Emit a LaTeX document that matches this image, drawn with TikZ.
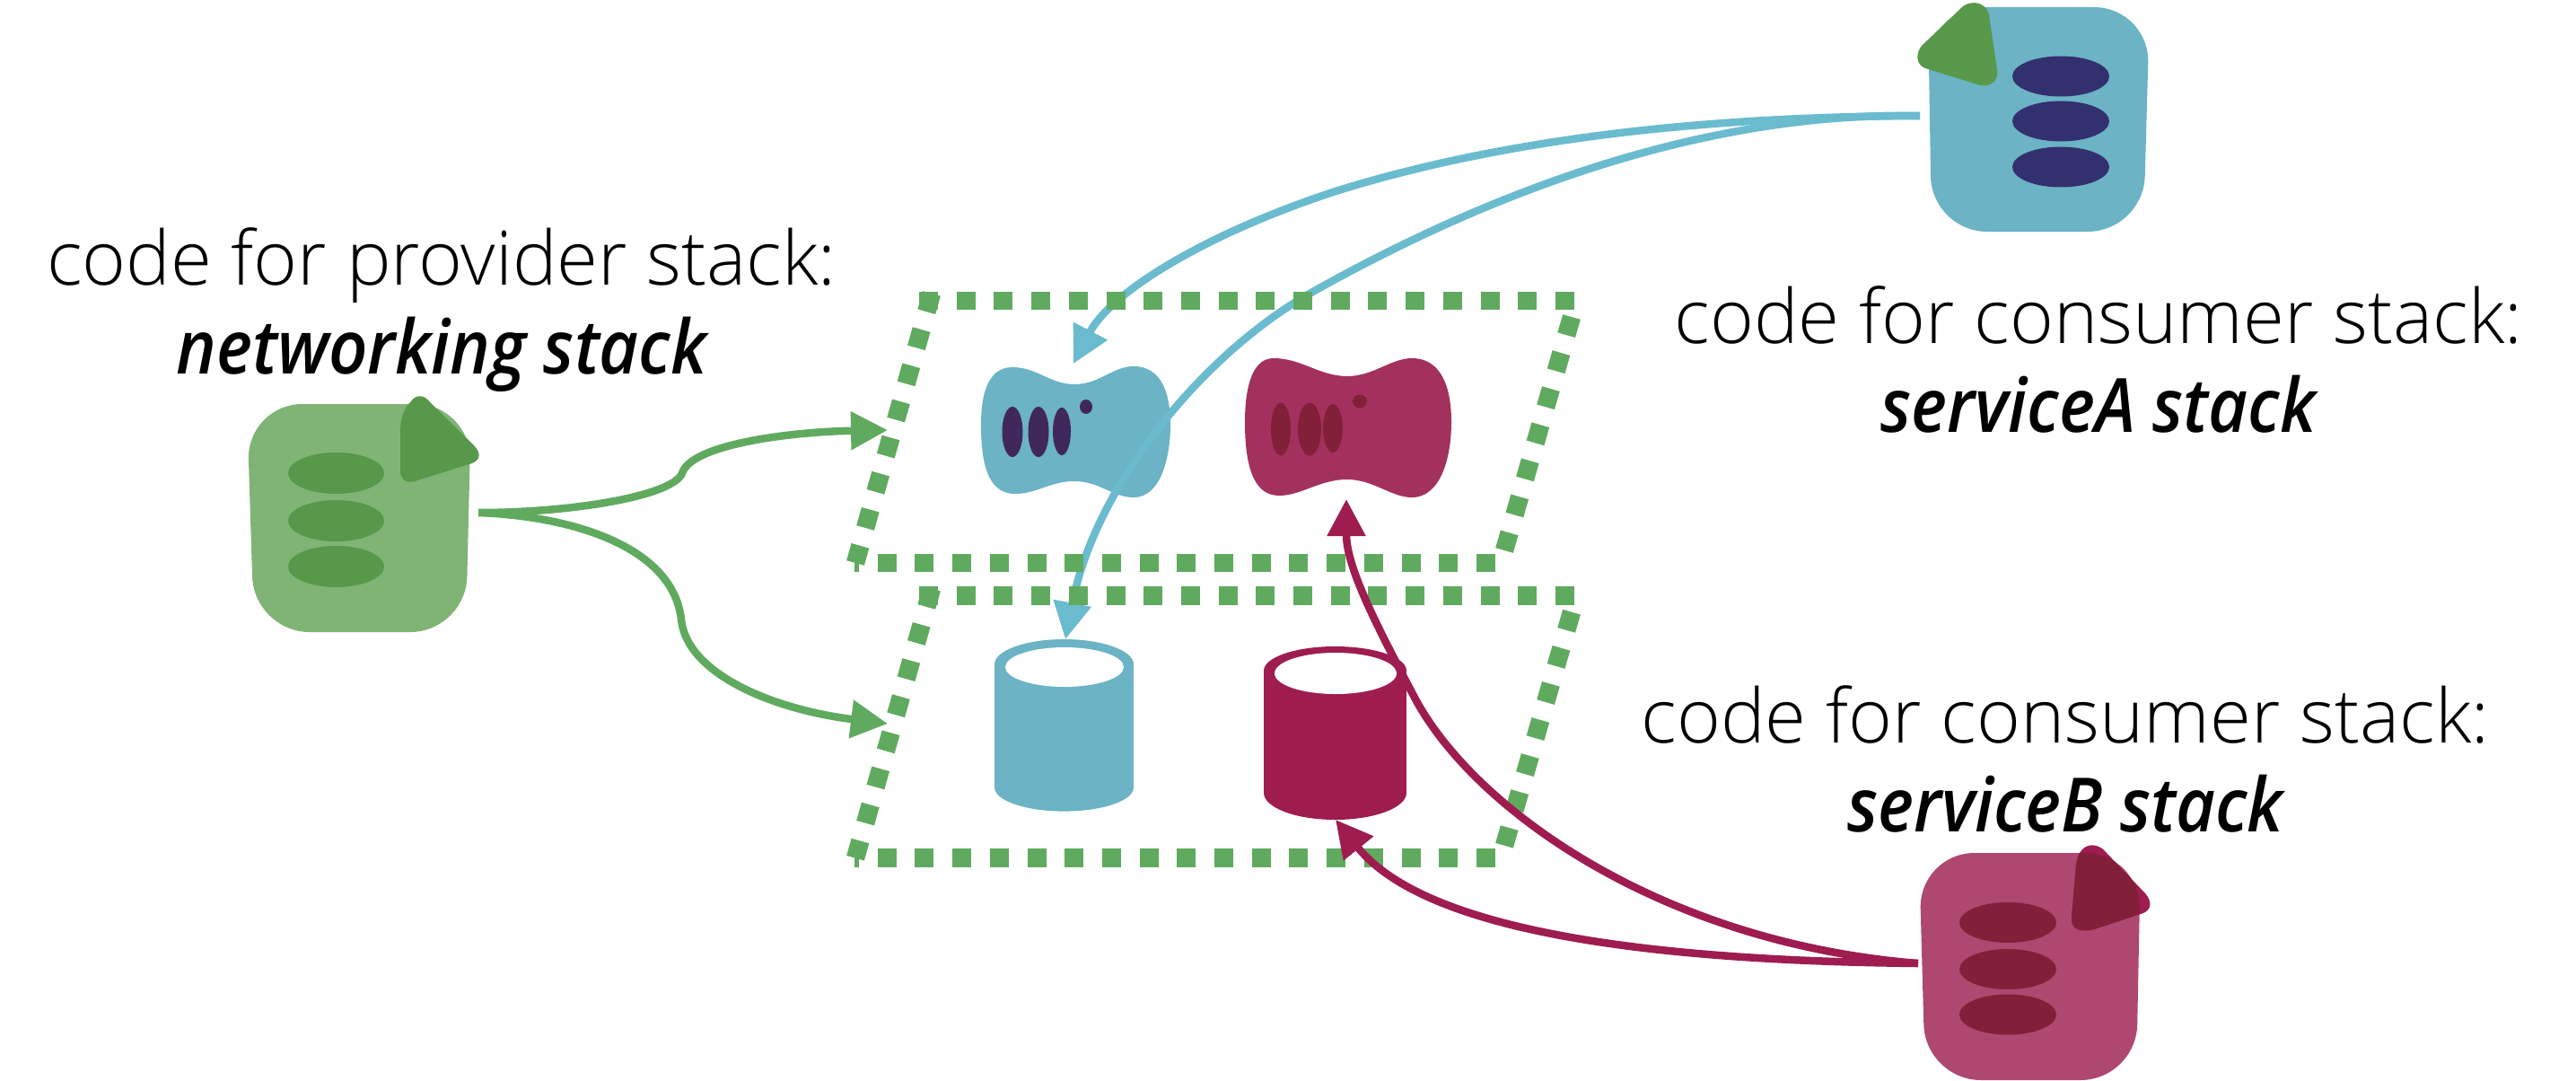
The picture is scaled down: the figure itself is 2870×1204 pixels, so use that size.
\documentclass[tikz,border=0pt]{standalone}
\usepackage{fontspec}
\setmainfont{Open Sans Light}
\newfontfamily\stackfont[FakeStretch=0.91]{Open Sans Semibold Italic}
\usetikzlibrary{arrows.meta}

\definecolor{greenline}{HTML}{60AA60}
\definecolor{greenbody}{HTML}{80B476}
\definecolor{greendark}{HTML}{57984B}
\definecolor{cyanline}{HTML}{6BBBCF}
\definecolor{cyanbody}{HTML}{6BB3C5}
\definecolor{cyandark}{HTML}{33306F}
\definecolor{cyanoval}{HTML}{40285C}
\definecolor{redline}{HTML}{9E1C50}
\definecolor{redbody}{HTML}{AE4870}
\definecolor{redblob}{HTML}{A3315D}
\definecolor{reddark}{HTML}{82203A}

\tikzset{
	codelabel/.style={align=center,inner sep=0pt,font=\fontsize{83.5}{99}\selectfont},
	link/.style={line width=8.5pt,-{Triangle[length=41pt,width=41pt]}},
	zone/.style={greenline,line width=20.5pt,dash pattern=on 21pt off 20.7pt}
}

\newcommand{\redflag}{(2320,946) .. controls (2328,938) and (2340,941) .. (2347,950) -- (2390,995)
	.. controls (2398,1004) and (2397,1013) .. (2388,1017) -- (2333,1035)
	.. controls (2318,1039) and (2307,1035) .. (2308,1022) -- (2313,963)
	.. controls (2314,956) and (2316,950) .. (2320,946) -- cycle}
\newcommand{\redpage}{[rounded corners=62pt] (2138,950) -- (2385,950) -- (2380,1203) -- (2145,1203) -- cycle}

\begin{document}
\begin{tikzpicture}[x=1pt,y=-1pt]
	\useasboundingbox (0,0) rectangle (2870,1204);

	% ports of the connectors
	\coordinate (providerOut) at (533,571);
	\coordinate (consumerAOut) at (2139,129);
	\coordinate (consumerBOut) at (2137,1073);
	\coordinate (zoneTopIn) at (989,479);
	\coordinate (zoneLowIn) at (989,806);
	\coordinate (apiAIn) at (1196,405);
	\coordinate (apiBIn) at (1500,556);
	\coordinate (dbAIn) at (1187,712);
	\coordinate (dbBIn) at (1488,913);

	% labels
	\node[codelabel] (providerLabel) at (492,345) {code for provider stack:\\{\stackfont networking stack}};
	\node[codelabel] (consumerALabel) at (2338,400) {code for consumer stack:\\{\stackfont serviceA stack}};
	\node[codelabel] (consumerBLabel) at (2301,845) {code for consumer stack:\\{\stackfont serviceB stack}};

	% provider code
	\fill[greenbody,rounded corners=62pt] (275,450) -- (525,450) -- (519,704) -- (283,704) -- cycle;
	\fill[greendark] (458,447) .. controls (463,439) and (473,439) .. (480,449) -- (527,495)
		.. controls (537,505) and (535,512) .. (526,516) -- (462,536)
		.. controls (451,539) and (446,533) .. (446,524) -- (446,482)
		.. controls (446,465) and (450,455) .. (458,447) -- cycle;
	\fill[greendark] (374.5,527) ellipse (53.5pt and 23pt);
	\fill[greendark] (374.5,580) ellipse (53.5pt and 23pt);
	\fill[greendark] (374.5,631) ellipse (53.5pt and 23pt);

	% consumer code A
	\fill[cyanbody,rounded corners=62pt] (2148,8) -- (2395,8) -- (2388,258) -- (2152,258) -- cycle;
	\fill[greendark] (2187,7) .. controls (2197,0) and (2212,2) .. (2216,16) -- (2225,78)
		.. controls (2227,90) and (2218,97) .. (2206,95) -- (2145,76)
		.. controls (2134,72) and (2134,58) .. (2142,50) -- cycle;
	\fill[cyandark] (2296,85) ellipse (54pt and 22.5pt);
	\fill[cyandark] (2296,135) ellipse (54pt and 22.5pt);
	\fill[cyandark] (2296,186) ellipse (54pt and 22.5pt);

	% consumer code B
	\fill[redbody] \redpage;
	\fill[redline] \redflag;
	\begin{scope}
		\clip \redpage;
		\fill[reddark] \redflag;
	\end{scope}
	\fill[reddark] (2237,1027.5) ellipse (54pt and 22.5pt);
	\fill[reddark] (2237,1079.5) ellipse (54pt and 22.5pt);
	\fill[reddark] (2237,1130) ellipse (54pt and 22.5pt);

	% api gateways
	\fill[cyanbody] (1197,428) .. controls (1170,428) and (1155,409) .. (1128,409)
		.. controls (1098,409) and (1093,445) .. (1093,473)
		.. controls (1093,515) and (1100,550) .. (1131,550)
		.. controls (1155,550) and (1170,536) .. (1197,536)
		.. controls (1225,536) and (1240,554) .. (1263,554)
		.. controls (1295,554) and (1304,505) .. (1304,473)
		.. controls (1304,440) and (1295,408) .. (1263,408)
		.. controls (1240,408) and (1225,428) .. (1197,428) -- cycle;
	\fill[cyanoval] (1128,481) ellipse (11.5pt and 28pt);
	\fill[cyanoval] (1157,481) ellipse (11.5pt and 28pt);
	\fill[cyanoval] (1183,480.5) ellipse (10pt and 26.5pt);
	\fill[cyanoval] (1210,453) ellipse (7pt and 8pt);

	\fill[redblob] (1501,419) .. controls (1470,419) and (1450,399) .. (1419,399)
		.. controls (1392,399) and (1387,440) .. (1387,470)
		.. controls (1387,515) and (1395,552) .. (1425,552)
		.. controls (1450,552) and (1470,534) .. (1501,534)
		.. controls (1530,534) and (1550,554) .. (1573,554)
		.. controls (1605,554) and (1617,510) .. (1617,470)
		.. controls (1617,430) and (1605,399) .. (1573,399)
		.. controls (1550,399) and (1530,419) .. (1501,419) -- cycle;
	\fill[reddark] (1427,478) ellipse (11pt and 29.5pt);
	\fill[reddark] (1459,478) ellipse (13pt and 29.5pt);
	\fill[reddark] (1485,477) ellipse (11pt and 27pt);
	\fill[reddark] (1515,447) ellipse (8pt and 7.5pt);

	% databases
	\fill[cyanbody] (1108,740) rectangle (1263,877);
	\fill[cyanbody] (1185.5,740) ellipse (77.5pt and 28pt);
	\fill[cyanbody] (1185.5,877) ellipse (77.5pt and 26.6pt);
	\fill[white] (1186,743) ellipse (66pt and 22pt);

	\fill[redline] (1408,747) rectangle (1567,883);
	\fill[redline] (1487.5,747) ellipse (79.5pt and 27pt);
	\fill[redline] (1487.5,883) ellipse (79.5pt and 30pt);
	\fill[white] (1488,750) ellipse (68pt and 23pt);

	% consumer A links
	\draw[link,cyanline] (consumerAOut) .. controls (1920,130) and (1690,150) .. (1488,213)
		.. controls (1330,265) and (1235,330) .. (apiAIn);
	\draw[link,cyanline] (consumerAOut) .. controls (1950,125) and (1720,180) .. (1459,327)
		.. controls (1340,395) and (1220,540) .. (dbAIn);

	% dashed zones
	\foreach \zy in {0,328.7}{
		\draw[zone] (1024,335+\zy) -- (1754,335+\zy);
		\draw[zone,dash phase=16pt] (952,627+\zy) -- (1666,627+\zy);
		\draw[zone] (1038,327+\zy) -- (953,627+\zy);
		\draw[zone] (1751,353+\zy) -- (1676,613+\zy);
	}

	% provider links
	\draw[link,greenline] (providerOut) .. controls (640,571) and (750,552) .. (760,527)
		.. controls (770,495) and (880,481) .. (zoneTopIn);
	\draw[link,greenline] (providerOut) .. controls (640,575) and (750,610) .. (759,690)
		.. controls (765,750) and (860,790) .. (zoneLowIn);

	% consumer B links
	\draw[link,redline] (consumerBOut) .. controls (1850,1050) and (1640,900) .. (1575,775)
		.. controls (1530,690) and (1500,630) .. (apiBIn);
	\draw[link,redline] (consumerBOut) .. controls (1850,1070) and (1590,1040) .. (dbBIn);
\end{tikzpicture}
\end{document}
